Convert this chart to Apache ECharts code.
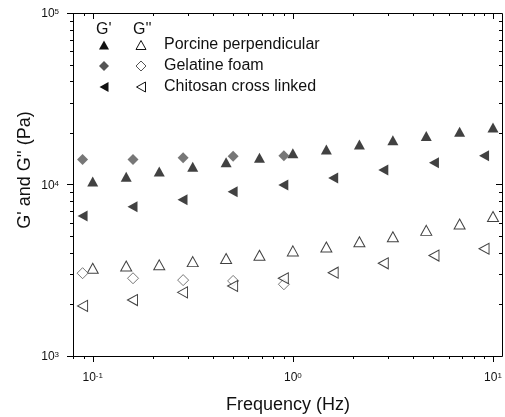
<!DOCTYPE html>
<html>
<head>
<meta charset="utf-8">
<script src="https://cdn.jsdelivr.net/npm/echarts@6/dist/echarts.min.js"></script>
<style>html,body{margin:0;padding:0;background:#fff}#c{width:505px;height:417px}</style>
</head>
<body>
<div id="c"></div>
<script>
// ---- data ----
const freqPorcine = [0.1, 0.147, 0.215, 0.316, 0.464, 0.681, 1, 1.47, 2.15, 3.16, 4.64, 6.81, 10];
const porcineG1 = [10400, 11100, 11900, 12700, 13500, 14300, 15200, 16000, 17100, 18100, 19200, 20300, 21500];
const porcineG2 = [3250, 3350, 3400, 3550, 3700, 3870, 4100, 4320, 4640, 4960, 5400, 5880, 6500];
const freqGelatine = [0.089, 0.159, 0.283, 0.503, 0.902];
const gelatineG1 = [14000, 14000, 14300, 14600, 14700];
const gelatineG2 = [3040, 2840, 2770, 2740, 2620];
const freqChitosan = [0.089, 0.158, 0.281, 0.5, 0.896, 1.59, 2.83, 5.07, 9.02];
const chitosanG1 = [6550, 7430, 8150, 9080, 9940, 10900, 12150, 13400, 14700];
const chitosanG2 = [1960, 2120, 2350, 2560, 2840, 3060, 3470, 3850, 4220];

const xTicks = [0.08, 0.09, 0.1, 0.2, 0.3, 0.4, 0.5, 0.6, 0.7, 0.8, 0.9, 1, 2, 3, 4, 5, 6, 7, 8, 9, 10];
const yTicks = [1000, 2000, 3000, 4000, 5000, 6000, 7000, 8000, 9000, 10000, 20000, 30000, 40000, 50000, 60000, 70000, 80000, 90000, 100000];
const legendNames = ['Porcine perpendicular', 'Gelatine foam', 'Chitosan cross linked'];

const FONT = 'Arial, "Liberation Sans", sans-serif';
const xMin = 0.0797, xMax = 11.09;
const yMin = 1000, yMax = 100000;
const INK = '#111';

function pairs(xs, ys) { return xs.map((x, i) => [x, ys[i]]); }
const isMajor = v => Math.abs(Math.log10(v) - Math.round(Math.log10(v))) < 1e-6;
const supFmt = v => '{b|10}{s|' + Math.round(Math.log10(v)) + '}';
const rich = { b: { fontSize: 12, fontFamily: FONT, fill: INK, color: INK },
               s: { fontSize: 8, fontFamily: FONT, fill: INK, color: INK, verticalAlign: 'top' } };
const crisp = v => Math.round(v) + 0.5;
const lineStyle = { stroke: '#000', lineWidth: 1 };

// frame of the plot, drawn through the axes' own scales
const frameSeries = {
  type: 'custom', name: 'frame', clip: false, silent: true, z: 10,
  data: [[xMin, yMin]],
  renderItem: (params, api) => {
    const p0 = api.coord([xMin, yMax]), p1 = api.coord([xMax, yMin]);
    const x0 = crisp(p0[0]), y0 = crisp(p0[1]);
    return { type: 'rect', shape: { x: x0, y: y0, width: Math.round(p1[0] - p0[0]), height: Math.round(p1[1] - p0[1]) },
             style: { fill: null, stroke: '#000', lineWidth: 1 } };
  }
};
// x ticks: outward at bottom, inward at top; labels at decades
const xTickSeries = {
  type: 'custom', name: 'xTicks', clip: false, silent: true, z: 10,
  data: xTicks.map(v => [v, yMin]),
  renderItem: (params, api) => {
    const v = api.value(0);
    const pb = api.coord([v, yMin]), pt = api.coord([v, yMax]);
    const len = isMajor(v) ? 6 : 3;
    const x = crisp(pb[0]);
    const yb = Math.round(pb[1]), yt = Math.round(pt[1]);
    const children = [
      { type: 'line', shape: { x1: x, y1: yb, x2: x, y2: yb + len }, style: lineStyle },
      { type: 'line', shape: { x1: x, y1: yt, x2: x, y2: yt + len }, style: lineStyle }
    ];
    if (isMajor(v)) children.push({ type: 'text', style: { text: supFmt(v), rich: rich, x: pb[0], y: yb + 22, align: 'center', verticalAlign: 'middle', fill: INK } });
    return { type: 'group', children: children };
  }
};
// y ticks: outward at left, inward at right; labels at decades
const yTickSeries = {
  type: 'custom', name: 'yTicks', clip: false, silent: true, z: 10,
  data: yTicks.map(v => [xMin, v]),
  renderItem: (params, api) => {
    const v = api.value(1);
    const pl = api.coord([xMin, v]), pr = api.coord([xMax, v]);
    const len = isMajor(v) ? 6 : 3;
    const y = crisp(pl[1]);
    const xl = Math.round(pl[0]), xr = Math.round(pr[0]);
    const children = [
      { type: 'line', shape: { x1: xl, y1: y, x2: xl - len, y2: y }, style: lineStyle },
      { type: 'line', shape: { x1: xr, y1: y, x2: xr - len, y2: y }, style: lineStyle }
    ];
    if (isMajor(v)) children.push({ type: 'text', style: { text: supFmt(v), rich: rich, x: xl - 14, y: pl[1] + 1, align: 'right', verticalAlign: 'middle', fill: INK } });
    return { type: 'group', children: children };
  }
};

const filled = c => ({ color: c, borderWidth: 0 });
const open = c => ({ color: '#fff', borderColor: c, borderWidth: 1 });
function ser(name, xs, ys, symbol, rot, size, style) {
  return { name: name, type: 'scatter', data: pairs(xs, ys),
           symbol: symbol, symbolRotate: rot, symbolSize: size, itemStyle: style, z: 5 };
}

function tri(cx, cy, style) { return { type: 'polygon', shape: { points: [[cx - 5, cy + 4.5], [cx + 5, cy + 4.5], [cx, cy - 4.5]] }, style: style }; }
function dia(cx, cy, style) { return { type: 'polygon', shape: { points: [[cx, cy - 5], [cx + 5, cy], [cx, cy + 5], [cx - 5, cy]] }, style: style }; }
function ltri(cx, cy, style) { return { type: 'polygon', shape: { points: [[cx - 4.5, cy], [cx + 4.5, cy - 5], [cx + 4.5, cy + 5]] }, style: style }; }
const fs = c => ({ fill: c, stroke: null });
const os = c => ({ fill: '#fff', stroke: c, lineWidth: 1 });
const rows = [45, 66, 87];

const chart = echarts.init(document.getElementById('c'));
chart.setOption({
  animation: false,
  grid: { left: 73, right: 3, top: 13, bottom: 61 },
  xAxis: { type: 'log', min: xMin, max: xMax, show: false },
  yAxis: { type: 'log', min: yMin, max: yMax, show: false },
  series: [
    ser("Porcine G'", freqPorcine, porcineG1, 'triangle', 0, [11, 10], filled('#111')),
    ser("Porcine G''", freqPorcine, porcineG2, 'triangle', 0, [11, 10], open('#111')),
    ser("Gelatine G'", freqGelatine, gelatineG1, 'diamond', 0, [11, 11], filled('#555')),
    ser("Gelatine G''", freqGelatine, gelatineG2, 'diamond', 0, [11, 11], open('#555')),
    ser("Chitosan G'", freqChitosan, chitosanG1, 'triangle', 90, [11, 10], filled('#111')),
    ser("Chitosan G''", freqChitosan, chitosanG2, 'triangle', 90, [11, 10], open('#111')),
    frameSeries, xTickSeries, yTickSeries
  ],
  graphic: [
    { type: 'text', left: 96, top: 22, style: { text: "G'", font: '16px ' + FONT, fill: INK } },
    { type: 'text', left: 133, top: 22, style: { text: "G''", font: '16px ' + FONT, fill: INK } },
    tri(104, rows[0], fs('#111')), tri(141, rows[0], os('#111')),
    dia(104, rows[1], fs('#555')), dia(141, rows[1], os('#555')),
    ltri(104, rows[2], fs('#111')), ltri(141, rows[2], os('#111')),
    { type: 'text', x: 164, y: rows[0], style: { text: legendNames[0], font: '16px ' + FONT, fill: INK, verticalAlign: 'middle' } },
    { type: 'text', x: 164, y: rows[1], style: { text: legendNames[1], font: '16px ' + FONT, fill: INK, verticalAlign: 'middle' } },
    { type: 'text', x: 164, y: rows[2], style: { text: legendNames[2], font: '16px ' + FONT, fill: INK, verticalAlign: 'middle' } },
    { type: 'text', x: 288, y: 405, style: { text: 'Frequency (Hz)', font: '18px ' + FONT, fill: INK, align: 'center', verticalAlign: 'middle' } },
    { type: 'text', x: 25, y: 170, rotation: Math.PI / 2, style: { text: "G' and G'' (Pa)", font: '18px ' + FONT, fill: INK, align: 'center', verticalAlign: 'middle' } }
  ]
});
</script>
</body>
</html>
